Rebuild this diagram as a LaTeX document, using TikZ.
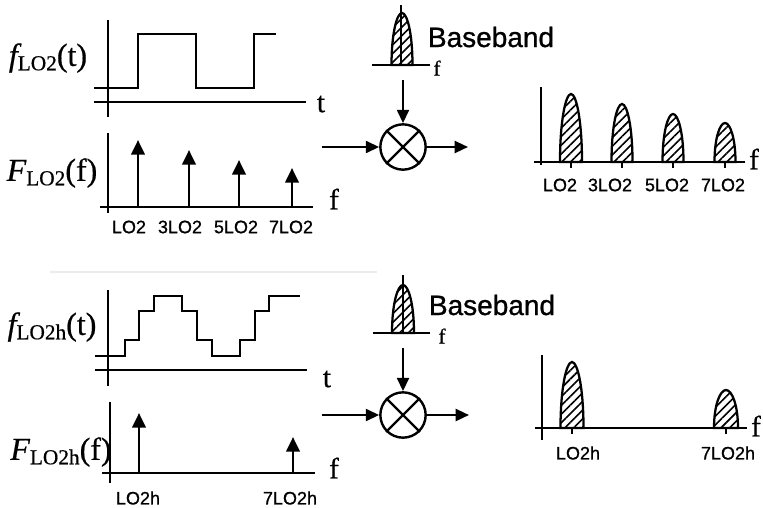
\documentclass[tikz,border=0pt]{standalone}
\usepackage{fontspec}
\setmainfont{Liberation Serif}[FakeBold=0.6]
\newfontfamily\sansf{Liberation Sans}[FakeBold=0.9]
\usetikzlibrary{arrows.meta,patterns.meta}
\tikzset{
 ax/.style={line width=2.1pt},
 wave/.style={line width=2.1pt, line join=miter},
 imp/.style={line width=2.1pt, -{Triangle[length=11pt,width=10pt]}},
 sig/.style={line width=1.7pt, -{Triangle[length=10pt,width=9pt]}},
 lobe/.style={line width=1.7pt, pattern={Lines[angle=45,distance=4.6pt,line width=1.2pt]}},
 mix/.style={circle, draw, line width=1.8pt, minimum size=34pt, inner sep=0pt},
 flab/.style={font=\fontsize{24}{26}\selectfont, inner sep=0pt},
 axlab/.style={font=\fontsize{22}{22}\selectfont, inner sep=0pt},
 smallf/.style={font=\fontsize{16}{16}\selectfont, inner sep=0pt},
 ticklab/.style={font=\sansf\fontsize{13.5}{14}\selectfont, inner sep=0pt},
 bblab/.style={font=\sansf\fontsize{21}{21}\selectfont, inner sep=0pt},
}
\newcommand{\subLO}[1]{\raisebox{-0.3ex}{\fontsize{16}{16}\selectfont #1}}
\newcommand{\drawlobe}[4]{%
 \draw[lobe] ({#1-#2},#3) .. controls ({#1-#2},{#4+0.4*(#3-#4)}) and ({#1-0.5*#2},#4) .. (#1,#4) .. controls ({#1+0.5*#2},#4) and ({#1+#2},{#4+0.4*(#3-#4)}) .. ({#1+#2},#3) -- cycle;}
\begin{document}
\begin{tikzpicture}[x=0.75pt,y=-0.75pt]
\useasboundingbox (0,0) rectangle (763,507);

%%%%%%%%%%%% TOP HALF %%%%%%%%%%%%
% time plot
\draw[ax] (108,20) -- (108,117);
\draw[ax] (94,102) -- (306,102);
\node[axlab] (t1) at (321,104) {t};
\draw[wave] (94,88) -- (138,88) -- (138,34) -- (196,34) -- (196,88) -- (254,88) -- (254,34) -- (276,34);
\node[flab] (fl1) at (48,58) {{\itshape f}\subLO{LO2}(t)};
% spectrum of LO
\draw[ax] (108,133) -- (108,213);
\draw[ax] (100,207) -- (313,207);
\node[axlab] (f1) at (334,199) {f};
\node[flab] (Fl1) at (52,173) {{\itshape F}\subLO{LO2}(f)};
\foreach \x/\h in {138/140,189/150,239/160,292/168}{
  \coordinate (b) at (\x,207); \coordinate (p) at (\x,\h);
  \draw[imp] (b) -- (p);
}
\node[ticklab] (a1) at (129,227) {LO2};
\node[ticklab] (a2) at (180,227) {3LO2};
\node[ticklab] (a3) at (236,227) {5LO2};
\node[ticklab] (a4) at (291,227) {7LO2};
% baseband
\draw[ax,line width=1.7pt] (372,65) -- (430,65);
\node[smallf] (bf1) at (437,68) {f};
\drawlobe{402}{10.5}{65}{13}
\draw[line width=1.5pt] (401,65) -- (401,5);
\node[bblab] (bb1) at (491,37) {Baseband};
% mixer
\node[mix] (m1) at (403,147) {};
\draw[line width=1.8pt] (m1.north east) -- (m1.south west) (m1.north west) -- (m1.south east);
\coordinate (in1) at (322,147);
\coordinate (out1) at (468,147);
\coordinate (top1) at (403,80);
\draw[sig] (in1) -- (m1.west);
\draw[sig] (m1.east) -- (out1);
\draw[sig] (top1) -- (m1.north);
% output spectrum
\draw[ax] (541,87) -- (541,165);
\draw[ax] (534,162) -- (745,162);
\node[axlab] (f2) at (754,159) {f};
\foreach \c/\w/\p in {571/11/94,622/10.5/104,673/10.5/114,725/10.5/123}{
  \drawlobe{\c}{\w}{162}{\p}
  \draw[line width=1.5pt] (\c,162) -- (\c,168);
}
\node[ticklab] (r1) at (560,185) {LO2};
\node[ticklab] (r2) at (610,185) {3LO2};
\node[ticklab] (r3) at (667,185) {5LO2};
\node[ticklab] (r4) at (723,185) {7LO2};

% separator
\draw[gray!15,line width=0.8pt] (50,272) -- (377,272);

%%%%%%%%%%%% BOTTOM HALF %%%%%%%%%%%%
\draw[ax] (108,290) -- (108,386);
\draw[ax] (95,370) -- (307,370);
\node[axlab] (t2) at (327,379) {t};
\draw[wave] (95,356) -- (125,356) -- (125,340) -- (139,340) -- (139,311) -- (154,311) -- (154,296) -- (182,296) -- (182,311) -- (197,311) -- (197,340) -- (212,340) -- (212,356) -- (240,356) -- (240,340) -- (255,340) -- (255,311) -- (269,311) -- (269,296) -- (300,296);
\node[flab] (fl2) at (52,327) {{\itshape f}\subLO{LO2h}(t)};
% spectrum
\draw[ax] (110,402) -- (110,483);
\draw[ax] (102,473) -- (315,473);
\node[axlab] (f3) at (334,468) {f};
\node[flab] (Fl2) at (61,452) {{\itshape F}\subLO{LO2h}(f)};
\foreach \x/\h in {139/413,293/437}{
  \coordinate (b) at (\x,473); \coordinate (p) at (\x,\h);
  \draw[imp] (b) -- (p);
}
\node[ticklab] (c1) at (138,498) {LO2h};
\node[ticklab] (c2) at (290,498) {7LO2h};
% baseband
\draw[ax,line width=1.7pt] (373,333) -- (430,333);
\node[smallf] (bf2) at (442,336) {f};
\drawlobe{403}{11}{333}{285}
\draw[line width=1.5pt] (403,333) -- (403,275);
\node[bblab] (bb2) at (492,305) {Baseband};
% mixer
\node[mix] (m2) at (403,415) {};
\draw[line width=1.8pt] (m2.north east) -- (m2.south west) (m2.north west) -- (m2.south east);
\coordinate (in2) at (322,415);
\coordinate (out2) at (469,415);
\coordinate (top2) at (403,348);
\draw[sig] (in2) -- (m2.west);
\draw[sig] (m2.east) -- (out2);
\draw[sig] (top2) -- (m2.north);
% output spectrum
\draw[ax] (542,355) -- (542,440);
\draw[ax] (535,428) -- (747,428);
\node[axlab] (f4) at (756,426) {f};
\foreach \c/\w/\p in {572/11.5/362,726/12/390}{
  \drawlobe{\c}{\w}{428}{\p}
  \draw[line width=1.5pt] (\c,428) -- (\c,434);
}
\node[ticklab] (d1) at (578,453) {LO2h};
\node[ticklab] (d2) at (728,453) {7LO2h};
\end{tikzpicture}
\end{document}
